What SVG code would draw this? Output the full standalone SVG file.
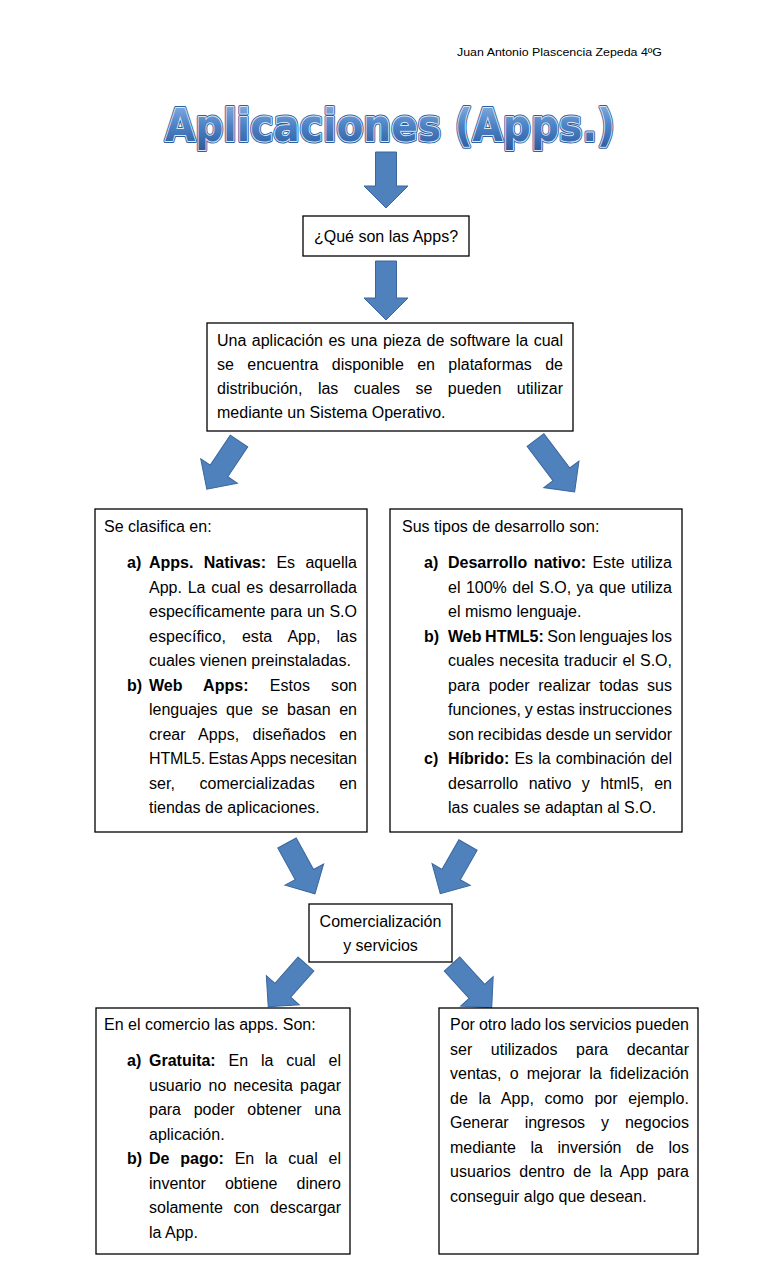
<svg xmlns="http://www.w3.org/2000/svg" width="768" height="1265" viewBox="0 0 768 1265">
<defs>
<style>
.t{font-family:"Liberation Sans",Arial,sans-serif;font-size:16px;fill:#000}
.b{font-weight:bold}
.box{fill:#fff;stroke:#000;stroke-width:1.3}
.arr{fill:#4f81bd;stroke:#3a669c;stroke-width:1}
</style>
<linearGradient id="tg" x1="0" y1="0" x2="0" y2="1">
<stop offset="0" stop-color="#8db5e4"/>
<stop offset="0.5" stop-color="#4d83c6"/>
<stop offset="1" stop-color="#2a5a9c"/>
</linearGradient>
</defs>
<rect width="768" height="1265" fill="#fff"/>

<text x="457" y="56" font-family="Liberation Sans,Arial,sans-serif" font-size="11.5" textLength="205" lengthAdjust="spacingAndGlyphs">Juan Antonio Plascencia Zepeda 4ºG</text>

<g id="title" font-family="DejaVu Sans,Verdana,sans-serif" font-weight="bold" font-size="44">
<text x="165" y="141" textLength="450" lengthAdjust="spacingAndGlyphs" fill="#2f5f9f" stroke="#2f5f9f" stroke-width="4" stroke-linejoin="round">Aplicaciones (Apps.)</text>
<text x="165" y="141" textLength="450" lengthAdjust="spacingAndGlyphs" fill="#dbe7f5" stroke="#dbe7f5" stroke-width="2" stroke-linejoin="round">Aplicaciones (Apps.)</text>
<text x="165" y="141" textLength="450" lengthAdjust="spacingAndGlyphs" fill="url(#tg)">Aplicaciones (Apps.)</text>
</g>

<g id="connectors">
<path class="arr" transform="translate(386,152)" d="M-10.5,0H10.5V34H22L0,56L-22,34H-10.5Z"/>
<path class="arr" transform="translate(386,261)" d="M-10.5,0H10.5V37H22L0,59L-22,37H-10.5Z"/>
<path class="arr" transform="translate(239,441) rotate(33.7)" d="M-10.5,0H10.5V36H22L0,58L-22,36H-10.5Z"/>
<path class="arr" transform="translate(535.5,440) rotate(-37)" d="M-10.5,0H10.5V43H22L0,65L-22,43H-10.5Z"/>
<path class="arr" transform="translate(287,843) rotate(-28.8)" d="M-10.5,0H10.5V36H22L0,58L-22,36H-10.5Z"/>
<path class="arr" transform="translate(468,845) rotate(29.7)" d="M-10.5,0H10.5V34H22L0,56L-22,34H-10.5Z"/>
<path class="arr" transform="translate(306,964) rotate(41.5)" d="M-10.5,0H10.5V35H22L0,57L-22,35H-10.5Z"/>
<path class="arr" transform="translate(452,964) rotate(-42.3)" d="M-10.5,0H10.5V37H22L0,59L-22,37H-10.5Z"/>
</g>

<g id="que-son">
<rect class="box" x="303" y="216" width="166" height="40"/>
<text class="t" x="386" y="241.5" text-anchor="middle">¿Qué son las Apps?</text>
</g>

<g id="definicion">
<rect class="box" x="207" y="323" width="366" height="108"/>
<text class="t" x="217" y="346" word-spacing="1" textLength="346" lengthAdjust="spacing">Una aplicación es una pieza de software la cual</text>
<text class="t" x="217" y="370" word-spacing="8.9" textLength="346" lengthAdjust="spacing">se encuentra disponible en plataformas de</text>
<text class="t" x="217" y="394" word-spacing="11" textLength="346" lengthAdjust="spacing">distribución, las cuales se pueden utilizar</text>
<text class="t" x="217" y="418">mediante un Sistema Operativo.</text>
</g>

<g id="clasificacion">
<rect class="box" x="95" y="509" width="272" height="323"/>
<text class="t" x="104" y="532">Se clasifica en:</text>
<text class="t b" x="127" y="568">a)</text>
<text class="t" x="149" y="568" word-spacing="5.9" textLength="208" lengthAdjust="spacing"><tspan class="b">Apps. Nativas:</tspan> Es aquella</text>
<text class="t" x="149" y="592.5" word-spacing="1.3" textLength="208" lengthAdjust="spacing">App. La cual es desarrollada</text>
<text class="t" x="149" y="617" word-spacing="0.3" textLength="208" lengthAdjust="spacing">específicamente para un S.O</text>
<text class="t" x="149" y="641.5" word-spacing="11.5" textLength="208" lengthAdjust="spacing">específico, esta App, las</text>
<text class="t" x="149" y="666">cuales vienen preinstaladas.</text>
<text class="t b" x="127" y="690.5">b)</text>
<text class="t" x="149" y="690.5" word-spacing="16.6" textLength="208" lengthAdjust="spacing"><tspan class="b">Web Apps:</tspan> Estos son</text>
<text class="t" x="149" y="715" word-spacing="4.2" textLength="208" lengthAdjust="spacing">lenguajes que se basan en</text>
<text class="t" x="149" y="739.5" word-spacing="8.85" textLength="208" lengthAdjust="spacing">crear Apps, diseñados en</text>
<text class="t" x="149" y="764" word-spacing="-0.8" textLength="208" lengthAdjust="spacing">HTML5. Estas Apps necesitan</text>
<text class="t" x="149" y="788.5" word-spacing="20" textLength="208" lengthAdjust="spacing">ser, comercializadas en</text>
<text class="t" x="149" y="813">tiendas de aplicaciones.</text>
</g>

<g id="desarrollo">
<rect class="box" x="390" y="509" width="292" height="323"/>
<text class="t" x="402" y="532">Sus tipos de desarrollo son:</text>
<text class="t b" x="424" y="568">a)</text>
<text class="t" x="448" y="568" word-spacing="2" textLength="224" lengthAdjust="spacing"><tspan class="b">Desarrollo nativo:</tspan> Este utiliza</text>
<text class="t" x="448" y="592.5" word-spacing="1" textLength="224" lengthAdjust="spacing">el 100% del S.O, ya que utiliza</text>
<text class="t" x="448" y="617">el mismo lenguaje.</text>
<text class="t b" x="424" y="641.5">b)</text>
<text class="t" x="448" y="641.5" word-spacing="-0.9" textLength="224" lengthAdjust="spacing"><tspan class="b">Web HTML5:</tspan> Son lenguajes los</text>
<text class="t" x="448" y="666" word-spacing="0.75" textLength="224" lengthAdjust="spacing">cuales necesita traducir el S.O,</text>
<text class="t" x="448" y="690.5" word-spacing="4.25" textLength="224" lengthAdjust="spacing">para poder realizar todas sus</text>
<text class="t" x="448" y="715" word-spacing="-0.6" textLength="224" lengthAdjust="spacing">funciones, y estas instrucciones</text>
<text class="t" x="448" y="739.5" word-spacing="-0.5" textLength="224" lengthAdjust="spacing">son recibidas desde un servidor</text>
<text class="t b" x="424" y="764">c)</text>
<text class="t" x="448" y="764" word-spacing="0.75" textLength="224" lengthAdjust="spacing"><tspan class="b">Híbrido:</tspan> Es la combinación del</text>
<text class="t" x="448" y="788.5" word-spacing="6" textLength="224" lengthAdjust="spacing">desarrollo nativo y html5, en</text>
<text class="t" x="448" y="813">las cuales se adaptan al S.O.</text>
</g>

<g id="comercializacion">
<rect class="box" x="309" y="904" width="143" height="58"/>
<text class="t" x="380.5" y="927" text-anchor="middle">Comercialización</text>
<text class="t" x="380.5" y="951" text-anchor="middle">y servicios</text>
</g>

<g id="comercio">
<rect class="box" x="96" y="1008" width="254" height="246"/>
<text class="t" x="104" y="1030">En el comercio las apps. Son:</text>
<text class="t b" x="127" y="1066">a)</text>
<text class="t" x="149" y="1066" word-spacing="8.4" textLength="192" lengthAdjust="spacing"><tspan class="b">Gratuita:</tspan> En la cual el</text>
<text class="t" x="149" y="1090.5" word-spacing="2.7" textLength="192" lengthAdjust="spacing">usuario no necesita pagar</text>
<text class="t" x="149" y="1115" word-spacing="8.25" textLength="192" lengthAdjust="spacing">para poder obtener una</text>
<text class="t" x="149" y="1139.5">aplicación.</text>
<text class="t b" x="127" y="1164">b)</text>
<text class="t" x="149" y="1164" word-spacing="6.4" textLength="192" lengthAdjust="spacing"><tspan class="b">De pago:</tspan> En la cual el</text>
<text class="t" x="149" y="1188.5" word-spacing="14.6" textLength="192" lengthAdjust="spacing">inventor obtiene dinero</text>
<text class="t" x="149" y="1213" word-spacing="6.2" textLength="192" lengthAdjust="spacing">solamente con descargar</text>
<text class="t" x="149" y="1237.5">la App.</text>
</g>

<g id="servicios">
<rect class="box" x="439" y="1008" width="259" height="246"/>
<text class="t" x="450" y="1030" word-spacing="-0.4" textLength="239" lengthAdjust="spacing">Por otro lado los servicios pueden</text>
<text class="t" x="450" y="1054.5" word-spacing="14.15" textLength="239" lengthAdjust="spacing">ser utilizados para decantar</text>
<text class="t" x="450" y="1079" word-spacing="3.75" textLength="239" lengthAdjust="spacing">ventas, o mejorar la fidelización</text>
<text class="t" x="450" y="1103.5" word-spacing="6.2" textLength="239" lengthAdjust="spacing">de la App, como por ejemplo.</text>
<text class="t" x="450" y="1128" word-spacing="11.5" textLength="239" lengthAdjust="spacing">Generar ingresos y negocios</text>
<text class="t" x="450" y="1152.5" word-spacing="10.2" textLength="239" lengthAdjust="spacing">mediante la inversión de los</text>
<text class="t" x="450" y="1177" word-spacing="4.05" textLength="239" lengthAdjust="spacing">usuarios dentro de la App para</text>
<text class="t" x="450" y="1201.5">conseguir algo que desean.</text>
</g>
</svg>
